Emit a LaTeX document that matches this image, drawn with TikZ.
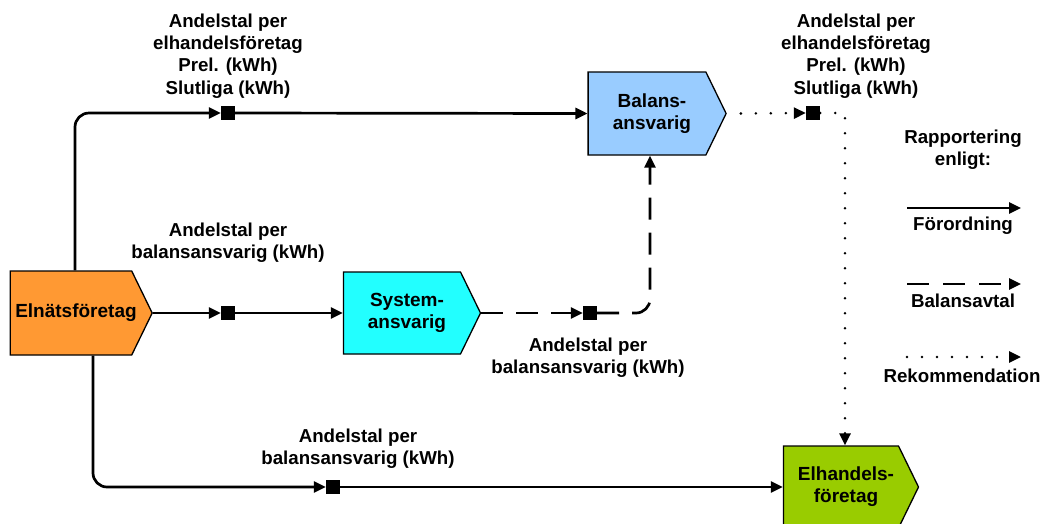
\documentclass[tikz,border=0pt]{standalone}
\usepackage{fontspec}
\setmainfont{Liberation Sans}
\usetikzlibrary{shapes.symbols,arrows.meta}
\definecolor{cOrange}{HTML}{FF9933}
\definecolor{cBlue}{HTML}{99CCFF}
\definecolor{cCyan}{HTML}{22FFFF}
\definecolor{cGreen}{HTML}{99CC00}
\newcommand{\rt}[1]{\hspace*{5pt}#1\hspace*{-5pt}}
\tikzset{
  proc/.style={signal, signal to=east, signal pointer angle=128, draw=black, line width=1.3pt,
    inner sep=0pt, font=\bfseries\fontsize{19}{22}\selectfont, align=center},
  marker/.style={fill=black, draw=none, minimum size=14pt, inner sep=0pt},
  lbl/.style={font=\bfseries\fontsize{18.7}{22.3}\selectfont, align=center, inner sep=0pt},
  tip/.style={-{Triangle[length=12pt,width=11pt]}},
  flow/.style={tip, line width=2.7pt},
  dflow/.style={tip, line width=2.7pt, dash pattern=on 22pt off 13pt},
  pflow/.style={tip, line width=2.8pt, line cap=round, dash pattern=on 0pt off 15pt},
}
\begin{document}
\begin{tikzpicture}[x=1pt,y=-1pt]
\useasboundingbox (0,0) rectangle (1040,523);
\begin{scope}
\clip (0,0) rectangle (1040,523);
% process shapes
\node[proc, fill=cOrange, minimum width=138pt, minimum height=84pt] (eln) at (71,313) {\rt{Elnätsföretag}};
\node[proc, fill=cBlue, minimum width=138pt, minimum height=83pt] (bal) at (647,113.5) {\rt{Balans-}\\\rt{ansvarig}};
\node[proc, fill=cCyan, minimum width=137pt, minimum height=82pt] (sys) at (402,313) {\rt{System-}\\\rt{ansvarig}};
\node[proc, fill=cGreen, minimum width=135pt, minimum height=82pt] (elh) at (841,487) {\rt{Elhandels-}\\\rt{företag}};
\end{scope}
% x positions for vertical connector legs
\coordinate (xa) at (75,0);
\coordinate (xb) at (93,0);
\coordinate (xc) at (650,0);
\coordinate (xd) at (845,0);
% markers
\node[marker] (sq1) at (228,113) {};
\node[marker] (sq2) at (228,313) {};
\node[marker] (sq3) at (590,313) {};
\node[marker] (sq4) at (333,487) {};
\node[marker] (sq5) at (813,113) {};
% connectors
\draw[flow, rounded corners=14pt] (eln.north -| xa) |- (sq1.west);
\draw[flow] (sq1.east) -- (bal.west);
\draw[flow] (eln.east) -- (sq2.west);
\draw[flow] (sq2.east) -- (sys.west);
\draw[flow, rounded corners=14pt] (eln.south -| xb) |- (sq4.west);
\draw[flow] (sq4.east) -- (elh.west);
\draw[dflow] (sys.east) -- (sq3.west);
\draw[dflow, rounded corners=14pt] (sq3.east) -| (bal.south -| xc);
\draw[pflow] ([xshift=14pt]bal.east) -- (sq5.west);
\draw[pflow] (sq5.east) -| (elh.north -| xd);
% labels
\node[lbl] (t1) at (228,56) {Andelstal per\\elhandelsföretag\\Prel. (kWh)\\Slutliga (kWh)};
\node[lbl] (t2) at (856,56) {Andelstal per\\elhandelsföretag\\Prel. (kWh)\\Slutliga (kWh)};
\node[lbl] (t3) at (228,243) {Andelstal per\\balansansvarig (kWh)};
\node[lbl] (t4) at (588,358) {Andelstal per\\balansansvarig (kWh)};
\node[lbl] (t5) at (358,449) {Andelstal per\\balansansvarig (kWh)};
% legend
\node[lbl] (lg) at (963,150) {Rapportering\\enligt:};
\coordinate (la1) at (907,208); \coordinate (lb1) at (1021,208);
\coordinate (la2) at (907,284); \coordinate (lb2) at (1021,284);
\coordinate (la3) at (907,357); \coordinate (lb3) at (1021,357);
\draw[flow] (la1) -- (lb1);
\draw[tip, line width=2.7pt, dash pattern=on 22pt off 14pt] (la2) -- (lb2);
\draw[pflow] (la3) -- (lb3);
\node[lbl] (f1) at (963,226) {Förordning};
\node[lbl] (f2) at (963,301) {Balansavtal};
\node[lbl] (f3) at (962,376) {Rekommendation};
\end{tikzpicture}
\end{document}
